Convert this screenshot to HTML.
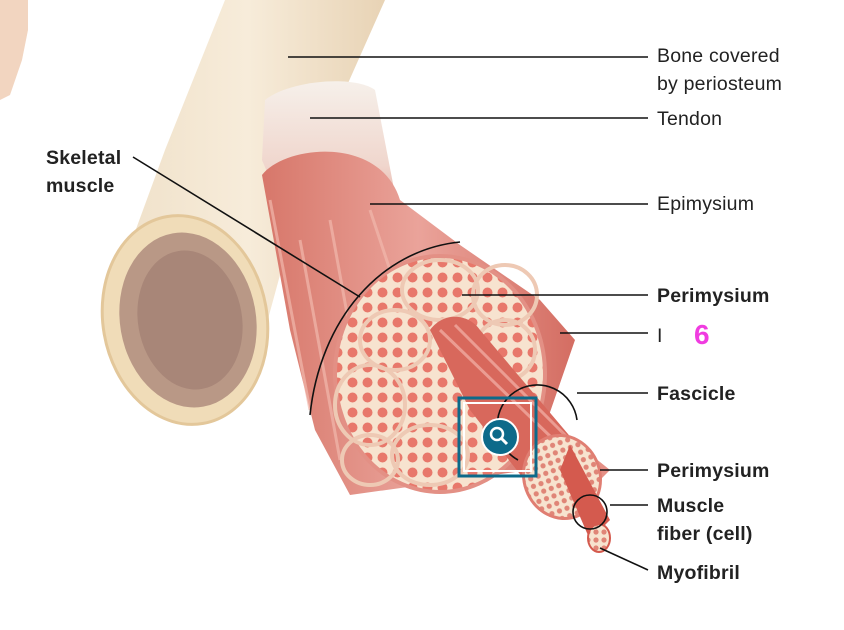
<!DOCTYPE html>
<html><head><meta charset="utf-8"><style>
html,body{margin:0;padding:0;background:#fff;}
svg{display:block;}
text{font-family:"Liberation Sans",sans-serif;font-size:19.5px;fill:#222;letter-spacing:0.2px;}
.b{font-weight:bold;}
</style></head><body>
<svg width="844" height="630" viewBox="0 0 844 630" xmlns="http://www.w3.org/2000/svg">
<defs>
<linearGradient id="bone" x1="0" y1="0" x2="1" y2="0">
<stop offset="0" stop-color="#efe0c8"/><stop offset="0.5" stop-color="#f7ecda"/><stop offset="1" stop-color="#e8d3b5"/></linearGradient>
<linearGradient id="mus" x1="0" y1="0" x2="1" y2="0">
<stop offset="0" stop-color="#d7776a"/><stop offset="0.5" stop-color="#eaa39a"/><stop offset="1" stop-color="#d46d62"/></linearGradient>
<linearGradient id="ten" x1="0" y1="0" x2="0" y2="1">
<stop offset="0" stop-color="#f6f0ea"/><stop offset="0.5" stop-color="#f0d6cd"/><stop offset="1" stop-color="#e08a7e"/></linearGradient>
<pattern id="fib" width="15" height="15" patternUnits="userSpaceOnUse">
<rect width="15" height="15" fill="#f7e3cf"/><circle cx="7.5" cy="7.5" r="5" fill="#e8786b"/></pattern>
<pattern id="fib2" width="8" height="8" patternUnits="userSpaceOnUse">
<rect width="8" height="8" fill="#f7e3cf"/><circle cx="4" cy="4" r="2.6" fill="#e08577"/></pattern>
</defs>
<path d="M0 0 L28 0 L28 30 L22 60 L10 95 L0 100 Z" fill="#f2d5c0"/>
<path d="M225 0 L385 0 L345 90 L295 220 L265 330 L110 300 L165 150 Z" fill="url(#bone)"/>
<ellipse cx="185" cy="320" rx="82" ry="105" transform="rotate(-10 185 320)" fill="#f0dcb8" stroke="#e3c79a" stroke-width="3"/>
<ellipse cx="188" cy="320" rx="68" ry="88" transform="rotate(-10 188 320)" fill="#b99886"/>
<ellipse cx="190" cy="320" rx="52" ry="70" transform="rotate(-10 190 320)" fill="#a88678"/>
<path d="M265 100 C290 80 355 75 375 90 L400 220 L300 250 L262 160 Z" fill="url(#ten)"/>
<path d="M262 175 C285 145 380 135 400 200 L460 245 L540 300 L575 340 L530 470 L350 495 L315 430 L290 330 Z" fill="url(#mus)"/>
<path d="M300 240 L340 460 M330 220 L370 440 M370 210 L400 300 M270 200 L310 410" stroke="#f1b8ad" stroke-width="3" fill="none" opacity="0.7"/>
<ellipse cx="440" cy="374" rx="105" ry="118" fill="url(#fib)" stroke="#e39085" stroke-width="4"/>
<g fill="none" stroke="#eec9b4" stroke-width="4">
<ellipse cx="440" cy="290" rx="38" ry="30"/><ellipse cx="505" cy="295" rx="32" ry="30"/>
<ellipse cx="395" cy="340" rx="35" ry="30"/><ellipse cx="370" cy="405" rx="35" ry="40"/>
<ellipse cx="430" cy="455" rx="38" ry="30"/><ellipse cx="505" cy="350" rx="30" ry="30"/>
<ellipse cx="370" cy="460" rx="28" ry="25"/></g>
<path d="M430 330 C445 310 470 315 480 330 L590 460 L540 500 L470 410 Z" fill="#d8685c"/>
<path d="M440 330 L580 465 M455 325 L585 455" stroke="#eb9c92" stroke-width="3" fill="none"/>
<path d="M560 430 L610 470 L590 490 Z" fill="#e59086"/>
<ellipse cx="562" cy="477" rx="38" ry="42" transform="rotate(-20 562 477)" fill="url(#fib2)" stroke="#e07e72" stroke-width="3"/>
<path d="M570 445 L610 520 L590 540 L560 470 Z" fill="#d45a4e"/>
<ellipse cx="599" cy="538" rx="11" ry="14" fill="url(#fib2)" stroke="#d45a4e" stroke-width="2"/>
<g stroke="#111" stroke-width="1.6" fill="none">
<path d="M310 415 C320 320 380 250 460 242"/>
<path d="M288 57 L648 57 M310 118 L648 118 M370 204 L648 204 M462 295 L648 295 M560 333 L648 333 M577 393 L648 393 M600 470 L648 470 M610 505 L648 505 M600 548 L648 570"/>
<path d="M133 157 L360 297"/>
<path d="M518 460 A40 40 0 1 1 577 420"/>
<circle cx="590" cy="512" r="17"/>
</g>
<rect x="459" y="398" width="77" height="78" fill="none" stroke="#0d6a8a" stroke-width="3"/>
<rect x="464" y="403" width="67" height="68" fill="none" stroke="#fff" stroke-width="2"/>
<circle cx="500" cy="437" r="18" fill="#0d6a8a" stroke="#fff" stroke-width="2"/>
<circle cx="497" cy="434" r="6" fill="none" stroke="#fff" stroke-width="2.5"/>
<line x1="501" y1="438" x2="507" y2="444" stroke="#fff" stroke-width="3"/>
<text x="657" y="62">Bone covered</text>
<text x="657" y="90">by periosteum</text>
<text x="657" y="125">Tendon</text>
<text x="657" y="210">Epimysium</text>
<text x="657" y="302" class="b">Perimysium</text>
<text x="657" y="342">I</text>
<text x="694" y="344" style="font-size:28px;font-weight:bold;fill:#f03ce0">6</text>
<text x="657" y="400" class="b">Fascicle</text>
<text x="657" y="477" class="b">Perimysium</text>
<text x="657" y="512" class="b">Muscle</text>
<text x="657" y="540" class="b">fiber (cell)</text>
<text x="657" y="579" class="b">Myofibril</text>
<text x="46" y="164" class="b">Skeletal</text>
<text x="46" y="192" class="b">muscle</text>
</svg>
</body></html>
